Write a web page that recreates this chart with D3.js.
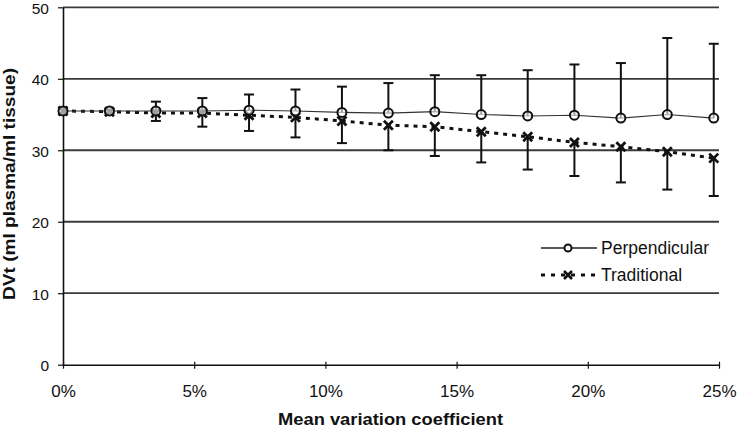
<!DOCTYPE html>
<html>
<head>
<meta charset="utf-8">
<script src="https://cdn.jsdelivr.net/npm/d3@7"></script>
<style>
  html, body { margin: 0; padding: 0; background: #fff; }
  svg { display: block; font-family: "Liberation Sans", Arial, sans-serif; }
</style>
</head>
<body>
<svg id="chart" width="737" height="429"></svg>
<script>
// Mean variation coefficient (%)
const xValues = [0, 1.77, 3.54, 5.31, 7.09, 8.86, 10.63, 12.4, 14.17, 15.94, 17.71, 19.49, 21.26, 23.03, 24.8];
// DVt values
const perpendicular = [35.5, 35.5, 35.5, 35.5, 35.6, 35.5, 35.3, 35.2, 35.4, 35.0, 34.8, 34.9, 34.5, 35.0, 34.5];
const traditional   = [35.5, 35.4, 35.2, 35.2, 34.9, 34.6, 34.1, 33.5, 33.3, 32.6, 31.9, 31.1, 30.5, 29.8, 28.9];
// error bars (perpendicular: plus direction, traditional: minus direction)
const perpErr = [0, 0.2, 1.3, 1.8, 2.2, 3.0, 3.6, 4.2, 5.1, 5.5, 6.4, 7.1, 7.7, 10.7, 10.4];
const tradErr = [0, 0.2, 1.1, 1.9, 2.2, 2.8, 3.1, 3.5, 4.1, 4.3, 4.6, 4.7, 5.0, 5.3, 5.3];
const xTicks = [0, 5, 10, 15, 20, 25];
const yTicks = [0, 10, 20, 30, 40, 50];
const seriesNames = ["Perpendicular", "Traditional"];

(function () {
const svg = d3.select("#chart");
const mLeft = 63, mRight = 719, mTop = 7.3, mBottom = 364.7;

const x = d3.scaleLinear().domain([0, 25]).range([mLeft, mRight]);
const y = d3.scaleLinear().domain([0, 50]).range([mBottom, mTop]);

// gridlines
svg.append("g")
  .selectAll("line")
  .data(yTicks.filter(d => d > 0))
  .join("line")
  .attr("x1", mLeft).attr("x2", mRight)
  .attr("y1", d => y(d)).attr("y2", d => y(d))
  .attr("stroke", "#3a3a3a").attr("stroke-width", 1.8);

// axes
const xAxis = svg.append("g")
  .attr("transform", `translate(0,${mBottom})`)
  .call(d3.axisBottom(x).tickValues(xTicks).tickFormat(d => d + "%").tickSizeInner(4).tickSizeOuter(0).tickPadding(16));
xAxis.select(".domain").attr("stroke", "#111").attr("stroke-width", 1.6);
xAxis.selectAll(".tick line").attr("stroke", "#111").attr("stroke-width", 1.2).attr("y1", -3).attr("y2", 4);
xAxis.selectAll(".tick text").attr("font-size", 17).attr("fill", "#111").attr("font-family", "Liberation Sans, Arial, sans-serif");

const yAxis = svg.append("g")
  .attr("transform", `translate(${mLeft},0)`)
  .call(d3.axisLeft(y).tickValues(yTicks).tickSizeInner(5).tickSizeOuter(0).tickPadding(9));
yAxis.select(".domain").attr("stroke", "#111").attr("stroke-width", 1.6);
yAxis.selectAll(".tick line").attr("stroke", "#111").attr("stroke-width", 1.2);
yAxis.selectAll(".tick text").attr("font-size", 15.5).attr("fill", "#111").attr("font-family", "Liberation Sans, Arial, sans-serif")
  .attr("dy", "0.4em");

// axis titles
svg.append("text")
  .attr("x", 390.5).attr("y", 425)
  .attr("text-anchor", "middle")
  .attr("font-size", 16.5).attr("font-weight", "bold").attr("fill", "#111")
  .attr("textLength", 225).attr("lengthAdjust", "spacingAndGlyphs")
  .text("Mean variation coefficient");

svg.append("text")
  .attr("transform", "translate(15,184) rotate(-90)")
  .attr("text-anchor", "middle")
  .attr("font-size", 16.5).attr("font-weight", "bold").attr("fill", "#111")
  .attr("textLength", 232).attr("lengthAdjust", "spacingAndGlyphs")
  .text("DVt (ml plasma/ml tissue)");

const idx = d3.range(xValues.length);

// error bars
const capW = 5;
function errorBars(vals, errs, sign) {
  const g = svg.append("g").attr("stroke", "#111").attr("stroke-width", 2);
  idx.filter(i => errs[i] > 0).forEach(i => {
    const cx = x(xValues[i]);
    const y0 = y(vals[i]);
    const y1 = y(vals[i] + sign * errs[i]);
    g.append("line").attr("x1", cx).attr("x2", cx).attr("y1", y0).attr("y2", y1);
    g.append("line").attr("x1", cx - capW).attr("x2", cx + capW).attr("y1", y1).attr("y2", y1);
  });
}
errorBars(perpendicular, perpErr, 1);
errorBars(traditional, tradErr, -1);

// lines
const line = d3.line().x(i => x(xValues[i]));
svg.append("path")
  .attr("d", line.y(i => y(traditional[i]))(idx))
  .attr("fill", "none").attr("stroke", "#111").attr("stroke-width", 3)
  .attr("stroke-dasharray", "4,5");
svg.append("path")
  .attr("d", line.y(i => y(perpendicular[i]))(idx))
  .attr("fill", "none").attr("stroke", "#333").attr("stroke-width", 1.1);

// markers
function crossPath(cx, cy, s) {
  return `M${cx - s},${cy - s}L${cx + s},${cy + s}M${cx - s},${cy + s}L${cx + s},${cy - s}`;
}
svg.append("g").selectAll("path")
  .data(idx).join("path")
  .attr("d", i => crossPath(x(xValues[i]), y(traditional[i]), 4.5))
  .attr("stroke", "#111").attr("stroke-width", 2.8).attr("fill", "none");
svg.append("g").selectAll("circle")
  .data(idx).join("circle")
  .attr("cx", i => x(xValues[i])).attr("cy", i => y(perpendicular[i]))
  .attr("r", 4.5)
  .attr("fill", "#fff").attr("fill-opacity", 0.6).attr("stroke", "#111").attr("stroke-width", 2);

// legend
const lg = svg.append("g");
const lx0 = 541, lx1 = 597, lmid = 568;
const ly = [248, 275];
lg.append("line").attr("x1", lx0).attr("x2", lx1).attr("y1", ly[0]).attr("y2", ly[0])
  .attr("stroke", "#222").attr("stroke-width", 1.3);
lg.append("circle").attr("cx", lmid).attr("cy", ly[0]).attr("r", 3.5)
  .attr("fill", "#fff").attr("stroke", "#111").attr("stroke-width", 2);
lg.append("line").attr("x1", lx0).attr("x2", lx1).attr("y1", ly[1]).attr("y2", ly[1])
  .attr("stroke", "#111").attr("stroke-width", 2.8).attr("stroke-dasharray", "4,6");
lg.append("path").attr("d", crossPath(lmid, ly[1], 4)).attr("stroke", "#111").attr("stroke-width", 2.6)
  .attr("fill", "none");
lg.selectAll("text").data(seriesNames).join("text")
  .attr("x", 601).attr("y", (d, i) => ly[i] + 6)
  .attr("font-size", 17.5).attr("fill", "#111")
  .text(d => d);
})();
</script>
</body>
</html>
